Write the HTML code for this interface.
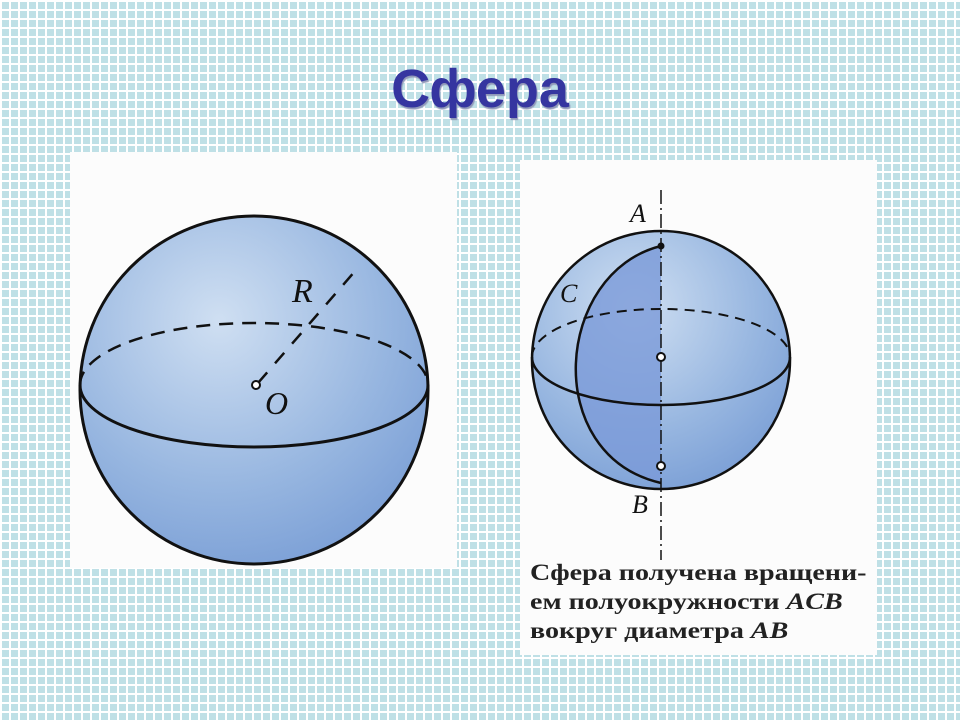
<!DOCTYPE html>
<html><head><meta charset="utf-8"><style>
body{margin:0;width:960px;height:720px;overflow:hidden;background-color:#bfe0e6;
background-image:linear-gradient(90deg,#fff 2px,transparent 2px),linear-gradient(#fff 2px,transparent 2px);
background-size:9px 9px;font-family:"Liberation Sans",sans-serif;position:relative}
h1{position:absolute;left:0;width:960px;top:58px;margin:0;text-align:center;font-size:54px;font-weight:bold;color:#3535a0;text-shadow:1px 2px 1px #9098b8}
.p{position:absolute;background:#fcfcfc}
.cap{position:absolute;left:530px;top:558px;font-family:"Liberation Serif",serif;font-size:23px;font-weight:bold;color:#222;line-height:29px;transform:scaleX(1.22);transform-origin:0 0;white-space:nowrap}
</style></head><body>
<h1>Сфера</h1>
<div class="p" style="left:70px;top:152px;width:387px;height:416px"></div>
<div class="p" style="left:520px;top:160px;width:357px;height:495px"></div>
<svg width="960" height="720" style="position:absolute;left:0;top:0">
<defs>
<radialGradient id="g" cx="0.4" cy="0.3" r="0.8"><stop offset="0" stop-color="#cfdff2"/><stop offset="0.6" stop-color="#97b6e0"/><stop offset="1" stop-color="#769bd4"/></radialGradient>
</defs>
<circle cx="254" cy="390" r="174" fill="url(#g)" stroke="#111" stroke-width="3"/>
<path d="M80 385 A174 62 0 0 0 428 385" fill="none" stroke="#111" stroke-width="3"/>
<path d="M80 385 A174 62 0 0 1 428 385" fill="none" stroke="#111" stroke-width="2.5" stroke-dasharray="14 9"/>
<path d="M258 383 L356 270" stroke="#111" stroke-width="2.5" stroke-dasharray="14 12"/>
<circle cx="256" cy="385" r="4" fill="#fff" stroke="#111" stroke-width="2"/>
<text x="265" y="414" font-family="Liberation Serif" font-style="italic" font-size="32" fill="#111">O</text>
<text x="292" y="302" font-family="Liberation Serif" font-style="italic" font-size="34" fill="#111">R</text>
<circle cx="661" cy="360" r="129" fill="url(#g)" stroke="#111" stroke-width="2.5"/>
<path d="M661 246 C555 272 540 455 661 483 L661 246 Z" fill="#7a9ad8" opacity="0.8"/>
<path d="M532 357 A129 48 0 0 0 790 357" fill="none" stroke="#111" stroke-width="2.5"/>
<path d="M532 357 A129 48 0 0 1 790 357" fill="none" stroke="#111" stroke-width="2" stroke-dasharray="10 7"/>
<path d="M661 246 C555 272 540 455 661 483" fill="none" stroke="#111" stroke-width="2.5"/>
<line x1="661" y1="190" x2="661" y2="560" stroke="#111" stroke-width="1.5" stroke-dasharray="14 4 2 4"/>
<circle cx="661" cy="246" r="3.5" fill="#111"/>
<circle cx="661" cy="357" r="4" fill="#fff" stroke="#111" stroke-width="2"/>
<circle cx="661" cy="466" r="4" fill="#fff" stroke="#111" stroke-width="2"/>
<g font-family="Liberation Serif" font-style="italic" font-size="26" fill="#111">
<text x="630" y="222">A</text><text x="560" y="302">C</text><text x="632" y="513">B</text></g>
</svg>
<div class="cap">Сфера получена вращени-<br>ем полуокружности <i>ACB</i><br>вокруг диаметра <i>AB</i></div>
</body></html>
